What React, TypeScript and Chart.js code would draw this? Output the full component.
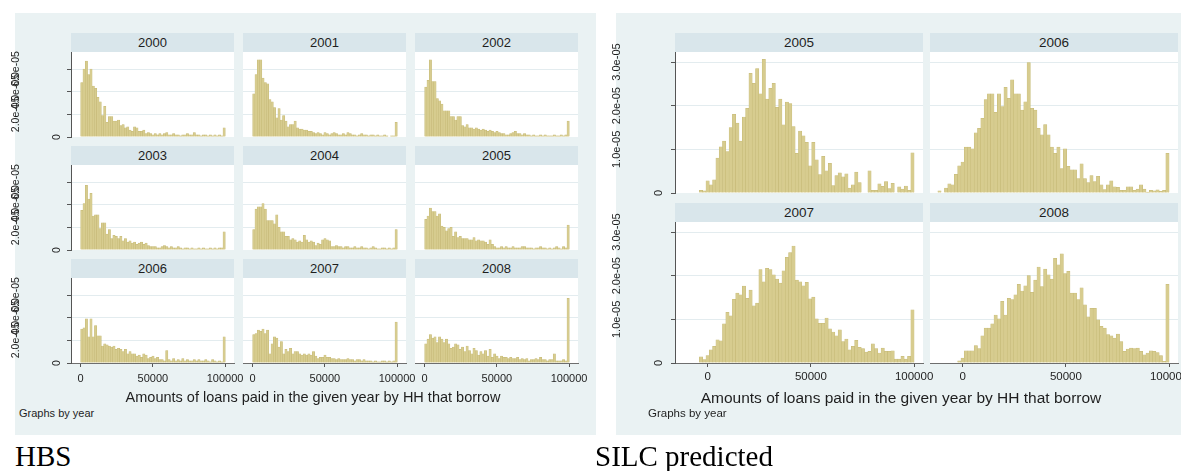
import { useEffect, useRef } from 'react';
import { Chart, BarController, BarElement, LinearScale } from 'chart.js';

Chart.register(BarController, BarElement, LinearScale);

// Histogram densities, in units of 1e-6 (one value per bin)
const HBS_YEARS = ['2000', '2001', '2002', '2003', '2004', '2005', '2006', '2007', '2008'];
const HBS_2000 = [48, 60, 67, 55, 60, 45, 43, 35, 31, 19, 27, 13, 18, 18, 14, 14, 15, 10, 11, 8, 9, 6, 5, 9, 8, 5, 5, 6, 3, 4, 3, 2, 3, 2, 3, 2, 3, 4, 2, 2, 3, 2, 2, 1, 2, 2, 3, 2, 2, 4, 2, 2, 1, 2, 2, 1, 2, 1, 2, 1, 2, 1, 8];
const HBS_2001 = [38, 55, 68, 68, 52, 48, 47, 33, 31, 26, 17, 25, 15, 19, 14, 9, 11, 11, 14, 8, 7, 7, 6, 6, 5, 5, 4, 3, 4, 3, 2, 4, 3, 2, 3, 4, 3, 2, 2, 3, 2, 4, 3, 2, 2, 1, 2, 3, 2, 2, 1, 2, 2, 1, 2, 1, 1, 2, 1, 0, 1, 1, 13];
const HBS_2002 = [44, 50, 68, 49, 49, 34, 32, 29, 23, 23, 23, 18, 18, 15, 18, 18, 10, 9, 11, 8, 8, 7, 8, 7, 6, 7, 6, 5, 6, 5, 4, 5, 4, 3, 3, 2, 2, 3, 4, 5, 3, 3, 2, 3, 2, 2, 1, 2, 1, 1, 2, 1, 2, 1, 1, 1, 2, 1, 1, 2, 1, 2, 14];
const HBS_2003 = [35, 41, 57, 45, 50, 30, 31, 31, 19, 24, 24, 14, 18, 10, 13, 12, 10, 12, 8, 10, 7, 8, 6, 7, 5, 6, 7, 5, 6, 4, 3, 3, 3, 2, 2, 3, 4, 3, 2, 3, 2, 2, 3, 2, 1, 2, 2, 1, 2, 1, 1, 2, 1, 2, 1, 1, 2, 1, 2, 1, 2, 2, 16];
const HBS_2004 = [18, 36, 38, 38, 41, 36, 26, 26, 26, 23, 31, 20, 16, 16, 12, 12, 9, 10, 9, 7, 8, 7, 13, 9, 7, 8, 7, 4, 6, 5, 9, 10, 9, 8, 3, 3, 4, 3, 3, 2, 3, 3, 2, 2, 3, 2, 2, 3, 2, 2, 1, 2, 3, 2, 1, 1, 2, 2, 1, 2, 1, 2, 18];
const HBS_2005 = [27, 30, 37, 34, 34, 30, 32, 21, 20, 17, 19, 20, 12, 16, 11, 12, 10, 10, 10, 9, 9, 11, 8, 9, 8, 8, 7, 5, 9, 5, 3, 2, 2, 3, 2, 3, 2, 2, 3, 2, 2, 2, 3, 3, 2, 2, 2, 1, 2, 2, 3, 2, 2, 1, 2, 1, 2, 3, 2, 1, 3, 2, 22];
const HBS_2006 = [30, 31, 39, 23, 39, 23, 33, 24, 24, 15, 17, 16, 15, 14, 15, 12, 13, 12, 10, 12, 8, 10, 8, 8, 6, 7, 5, 8, 7, 4, 5, 6, 4, 5, 3, 3, 2, 11, 3, 2, 4, 2, 3, 2, 4, 2, 3, 2, 2, 3, 2, 3, 2, 2, 3, 2, 1, 3, 2, 1, 2, 1, 23];
const HBS_2007 = [25, 26, 29, 28, 30, 26, 29, 8, 17, 23, 22, 14, 19, 8, 12, 10, 13, 8, 10, 10, 8, 7, 8, 7, 8, 7, 10, 6, 4, 5, 5, 7, 5, 5, 4, 4, 3, 4, 3, 3, 3, 4, 3, 3, 2, 3, 3, 2, 3, 2, 2, 2, 1, 2, 1, 1, 2, 2, 1, 2, 1, 2, 36];
const HBS_2008 = [17, 21, 25, 22, 23, 18, 23, 21, 18, 21, 17, 13, 14, 17, 16, 12, 14, 10, 15, 11, 8, 13, 11, 7, 10, 8, 11, 6, 12, 5, 8, 6, 4, 6, 5, 5, 4, 5, 4, 4, 5, 3, 4, 3, 4, 2, 3, 3, 4, 3, 5, 3, 3, 2, 3, 3, 8, 2, 2, 2, 3, 2, 57];
const HBS_DENSITY = [HBS_2000, HBS_2001, HBS_2002, HBS_2003, HBS_2004, HBS_2005, HBS_2006, HBS_2007, HBS_2008];
const HBS_BIN_START = 0;
const HBS_BIN_WIDTH = 1590;

const SILC_YEARS = ['2005', '2006', '2007', '2008'];
const SILC_2005 = [0, 0, 0, 0, 0, 0.6, 0.5, 2.8, 1.9, 3.0, 8.0, 10.6, 11.9, 9.5, 15.0, 18.0, 16.0, 11.9, 17.4, 19.4, 27.4, 25.1, 28.5, 22.7, 30.6, 21.5, 24.0, 25.1, 19.6, 21.5, 15.6, 20.8, 20.5, 15.2, 9.1, 14.2, 13.1, 11.6, 6.2, 11.6, 7.6, 4.2, 8.4, 5.1, 6.8, 1.7, 4.0, 4.6, 3.7, 4.4, 1.1, 1.9, 4.8, 2.4, 0, 0, 5.1, 0.6, 0.6, 2.1, 1.5, 2.6, 1.0, 2.2, 0, 1.4, 0.9, 1.6, 0.6, 9.2];
const SILC_2006 = [0.5, 0, 1.1, 2.1, 1.9, 4.3, 6.2, 7.1, 10.5, 10.5, 10.1, 13.8, 14.8, 17.1, 21.4, 22.7, 22.7, 18.5, 22.7, 19.8, 24.2, 21.7, 25.9, 22.7, 22.7, 19.0, 20.9, 29.9, 19.4, 19.0, 14.8, 13.3, 15.7, 13.3, 10.5, 9.1, 10.5, 5.6, 10.1, 6.1, 5.3, 5.3, 3.3, 6.7, 3.3, 2.4, 4.0, 2.6, 3.8, 1.9, 0.8, 1.9, 2.8, 1.4, 1.3, 0.6, 0.6, 1.4, 1.4, 0.6, 0.9, 1.9, 0.9, 0.2, 0.6, 0.5, 0.7, 0.4, 0.6, 9.1];
const SILC_2007 = [0, 0, 0, 0, 0, 1.4, 0.8, 1.7, 3.0, 3.8, 5.3, 5.1, 9.0, 11.6, 10.8, 14.6, 16.0, 15.6, 17.6, 14.8, 16.7, 13.1, 13.7, 21.4, 18.6, 21.7, 21.4, 20.2, 19.2, 18.3, 21.1, 24.2, 25.3, 26.8, 19.0, 18.6, 17.7, 18.5, 14.7, 15.1, 10.1, 9.1, 9.1, 10.3, 7.8, 7.1, 6.2, 7.6, 4.9, 5.5, 3.0, 3.8, 5.2, 3.6, 3.3, 2.5, 2.7, 4.4, 3.3, 2.3, 3.4, 2.7, 2.7, 2.8, 0.9, 0.9, 1.5, 0.9, 1.5, 12.2];
const SILC_2008 = [0, 0, 0, 0, 0, 0, 0.5, 1.1, 2.8, 2.8, 2.8, 4.0, 3.3, 6.2, 8.0, 8.0, 9.0, 11.0, 10.1, 14.1, 11.0, 14.8, 14.5, 15.6, 18.0, 16.5, 17.7, 20.0, 16.2, 19.0, 22.0, 17.5, 21.5, 20.2, 19.2, 24.0, 22.5, 25.0, 20.5, 21.0, 16.0, 16.0, 14.5, 17.2, 13.3, 10.6, 12.5, 12.5, 9.9, 8.4, 8.0, 6.5, 6.2, 5.7, 6.6, 4.9, 2.7, 3.2, 3.4, 3.3, 3.4, 2.7, 1.9, 2.3, 2.8, 2.7, 2.4, 1.7, 0.4, 18.0];
const SILC_DENSITY = [SILC_2005, SILC_2006, SILC_2007, SILC_2008];
const SILC_BIN_START = -12000;
const SILC_BIN_WIDTH = 1600;

const X_TICKS = [0, 50000, 100000];
const HBS_Y_TICKS = [0, 20, 40, 60];
const SILC_Y_TICKS = [0, 10, 20, 30];
const X_TITLE = 'Amounts of loans paid in the given year by HH that borrow';
const NOTE = 'Graphs by year';

const FONT = "'Liberation Sans', Arial, Helvetica, sans-serif";
const SERIF = "'Liberation Serif', 'Times New Roman', serif";
const PANEL_BG = '#eaf2f3';
const STRIP_BG = '#d9e6eb';
const GRID = '#e3ecef';
const BAR_FILL = '#d7cc8f';
const BAR_LINE = '#c4b874';
const AXIS = '#555555';
const TEXT = '#1e1e1e';

// 1e-6 units -> "2.0e-05"
const fmtDensity = (v: number) =>
  v === 0 ? '0' : (v * 1e-6).toExponential(1).replace(/e-(\d)$/, 'e-0$1');

interface FacetProps {
  values: number[];
  binStart: number;
  binWidth: number;
  xMin: number;
  xMax: number;
  yMax: number;
  yTicks: number[];
  plotLeft: number;
  plotTop: number;
  plotW: number;
  plotH: number;
  canvasLeft: number;
  showX: boolean;
  tickSize: number;
  tickPad: number;
  yLabel: null | { x: number; zeroX: number; size: number };
}

function Facet(p: FacetProps) {
  const canvasRef = useRef<HTMLCanvasElement | null>(null);
  const axisSpace = p.plotLeft - p.canvasLeft;
  const padR = p.showX ? 18 : 0;
  const padT = 16;
  const padB = p.showX ? 0 : 8;
  const axisH = p.showX ? 28 : 0;
  const cw = axisSpace + p.plotW + padR;
  const ch = padT + p.plotH + axisH + padB;

  useEffect(() => {
    if (!canvasRef.current) return;
    const first = axisSpace > 0;
    const points = p.values.map((v, i) => ({
      x: p.binStart + p.binWidth * (i + 0.5),
      y: v > 0 ? v : null
    }));

    const plotBg = {
      id: 'plotBg',
      beforeDraw(chart: any) {
        const { ctx, chartArea: a } = chart;
        ctx.save();
        ctx.fillStyle = '#ffffff';
        ctx.fillRect(a.left, a.top, a.right - a.left, a.bottom - a.top);
        ctx.restore();
      }
    };

    // Stata-style rotated y labels (Chart.js cannot rotate y tick labels)
    const yLabels = {
      id: 'yLabels',
      afterDraw(chart: any) {
        if (!p.yLabel) return;
        const lab = p.yLabel;
        const ctx = chart.ctx;
        const ys = chart.scales.y;
        ctx.save();
        ctx.fillStyle = TEXT;
        ctx.font = `${lab.size}px ${FONT}`;
        ctx.textAlign = 'center';
        ctx.textBaseline = 'middle';
        p.yTicks.forEach((v) => {
          ctx.save();
          ctx.translate(v === 0 ? lab.zeroX : lab.x, ys.getPixelForValue(v));
          ctx.rotate(-Math.PI / 2);
          ctx.fillText(fmtDensity(v), 0, 0);
          ctx.restore();
        });
        ctx.restore();
      }
    };

    const chart = new Chart(canvasRef.current, {
      type: 'bar',
      data: {
        datasets: [
          {
            data: points as any,
            backgroundColor: BAR_FILL,
            borderColor: BAR_LINE,
            borderWidth: 0.5,
            barPercentage: 1,
            categoryPercentage: 1,
            grouped: false
          }
        ]
      },
      options: {
        animation: false,
        responsive: false,
        maintainAspectRatio: false,
        layout: { padding: { left: 0, right: padR, top: padT, bottom: padB } },
        plugins: { legend: { display: false }, tooltip: { enabled: false } },
        scales: {
          x: {
            type: 'linear',
            min: p.xMin,
            max: p.xMax,
            offset: false,
            display: p.showX,
            grid: { display: true, offset: false, drawOnChartArea: false, drawTicks: true, tickLength: 4, tickColor: AXIS },
            border: { display: true, color: '#6e6e6e', width: 1 },
            ticks: {
              autoSkip: false,
              maxRotation: 0,
              minRotation: 0,
              padding: p.tickPad,
              color: TEXT,
              font: { family: FONT, size: p.tickSize },
              callback: (v: any) => String(v)
            },
            afterBuildTicks: (s: any) => {
              s.ticks = X_TICKS.map((v) => ({ value: v }));
            },
            afterFit: (s: any) => {
              s.height = axisH;
            }
          },
          y: {
            type: 'linear',
            min: 0,
            max: p.yMax,
            display: true,
            position: 'left',
            ticks: { display: false },
            grid: {
              color: (c: any) => (c.tick && c.tick.value === 0 ? 'rgba(0,0,0,0)' : GRID),
              drawTicks: first,
              tickLength: 4,
              tickColor: AXIS
            },
            border: { display: first, color: AXIS, width: 1 },
            afterBuildTicks: (s: any) => {
              s.ticks = p.yTicks.map((v) => ({ value: v }));
            },
            afterFit: (s: any) => {
              s.width = axisSpace;
            }
          }
        }
      } as any,
      plugins: [plotBg, yLabels]
    });

    return () => {
      chart.destroy();
    };
  }, []);

  return (
    <canvas
      ref={canvasRef}
      width={cw}
      height={ch}
      style={{ position: 'absolute', left: p.canvasLeft, top: p.plotTop - padT, width: cw, height: ch }}
    />
  );
}

function Text(props: { x: number; y: number; text: string; size: number; center?: boolean; font?: string }) {
  const lh = Math.ceil(props.size * 1.3);
  return (
    <div
      style={{
        position: 'absolute',
        left: props.x,
        top: props.y - lh / 2,
        height: lh,
        lineHeight: `${lh}px`,
        fontSize: props.size,
        fontFamily: props.font || FONT,
        color: TEXT,
        whiteSpace: 'nowrap',
        transform: props.center ? 'translateX(-50%)' : undefined
      }}
    >
      {props.text}
    </div>
  );
}

function Strip(props: { left: number; top: number; width: number; label: string; size: number }) {
  return (
    <div
      style={{
        position: 'absolute',
        left: props.left,
        top: props.top,
        width: props.width,
        height: 19,
        lineHeight: '19px',
        background: STRIP_BG,
        textAlign: 'center',
        fontFamily: FONT,
        fontSize: props.size,
        color: TEXT
      }}
    >
      {props.label}
    </div>
  );
}

// panel geometry
const HBS_COLS = [71, 243, 415];
const HBS_W = 163;
const HBS_ROWS = [33, 146, 259];
const HBS_H = 85;
const SILC_COLS = [675, 930];
const SILC_W = 248;
const SILC_ROWS = [33, 203];
const SILC_H = 141;

export default function App() {
  const strips: any[] = [];
  const facets: any[] = [];

  HBS_DENSITY.forEach((vals, k) => {
    const r = Math.floor(k / 3);
    const c = k % 3;
    strips.push(<Strip key={`hs${k}`} left={HBS_COLS[c]} top={HBS_ROWS[r]} width={HBS_W} label={HBS_YEARS[k]} size={13} />);
    facets.push(
      <Facet
        key={`hf${k}`}
        values={vals}
        binStart={HBS_BIN_START}
        binWidth={HBS_BIN_WIDTH}
        xMin={-6700}
        xMax={106200}
        yMax={75}
        yTicks={HBS_Y_TICKS}
        plotLeft={HBS_COLS[c]}
        plotTop={HBS_ROWS[r] + 19}
        plotW={HBS_W}
        plotH={HBS_H}
        canvasLeft={c === 0 ? 0 : HBS_COLS[c]}
        showX={r === 2}
        tickSize={11}
        tickPad={5}
        yLabel={c === 0 ? { x: 16, zeroX: 57, size: 10.5 } : null}
      />
    );
  });

  SILC_DENSITY.forEach((vals, k) => {
    const r = Math.floor(k / 2);
    const c = k % 2;
    strips.push(<Strip key={`ss${k}`} left={SILC_COLS[c]} top={SILC_ROWS[r]} width={SILC_W} label={SILC_YEARS[k]} size={13.5} />);
    facets.push(
      <Facet
        key={`sf${k}`}
        values={vals}
        binStart={SILC_BIN_START}
        binWidth={SILC_BIN_WIDTH}
        xMin={-15800}
        xMax={104300}
        yMax={32.3}
        yTicks={SILC_Y_TICKS}
        plotLeft={SILC_COLS[c]}
        plotTop={SILC_ROWS[r] + 19}
        plotW={SILC_W}
        plotH={SILC_H}
        canvasLeft={c === 0 ? 600 : SILC_COLS[c]}
        showX={r === 1}
        tickSize={11.5}
        tickPad={3}
        yLabel={c === 0 ? { x: 17, zeroX: 59, size: 11 } : null}
      />
    );
  });

  return (
    <div style={{ position: 'absolute', left: 0, top: 0, width: 1181, height: 471, overflow: 'hidden', background: '#ffffff' }}>
      <div style={{ position: 'absolute', left: 15, top: 13, width: 581, height: 422, background: PANEL_BG }} />
      <div style={{ position: 'absolute', left: 616, top: 13, width: 565, height: 422, background: PANEL_BG }} />
      {strips}
      {facets}
      <Text x={313} y={397} text={X_TITLE} size={14.5} center />
      <Text x={901} y={397} text={X_TITLE} size={15.5} center />
      <Text x={19} y={413} text={NOTE} size={11} />
      <Text x={648} y={413} text={NOTE} size={11.5} />
      <div style={{ position: 'absolute', left: 15, top: 442, lineHeight: '29px', fontSize: 29, fontFamily: SERIF, color: '#000' }}>HBS</div>
      <div style={{ position: 'absolute', left: 595, top: 442, lineHeight: '29px', fontSize: 29, fontFamily: SERIF, color: '#000' }}>SILC predicted</div>
    </div>
  );
}
